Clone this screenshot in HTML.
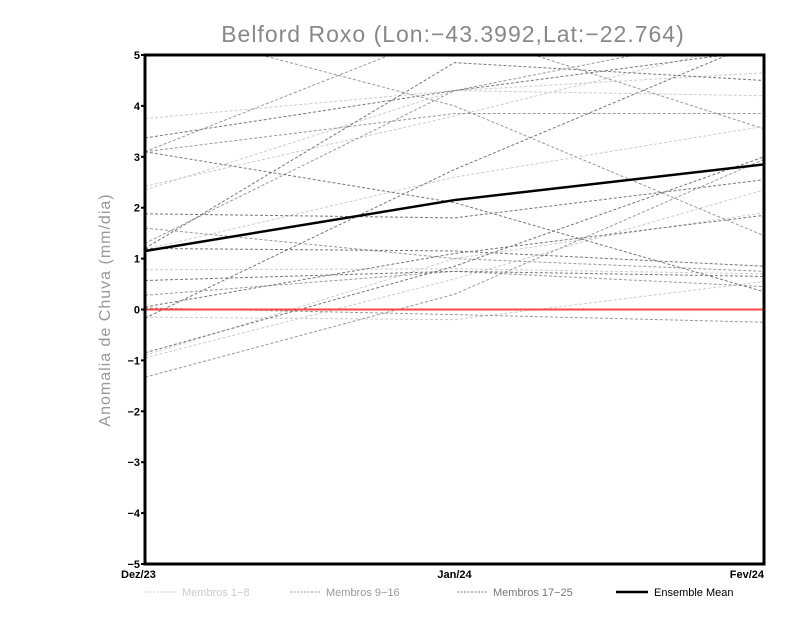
<!DOCTYPE html>
<html><head><meta charset="utf-8">
<style>
html,body{margin:0;padding:0;background:#fff;width:800px;height:618px;overflow:hidden}
text{font-family:"Liberation Sans",sans-serif}
</style></head>
<body>
<svg id="chart" width="800" height="618" xmlns="http://www.w3.org/2000/svg">
<defs><clipPath id="pc"><rect x="145" y="55" width="619" height="509"/></clipPath></defs>
<text x="453" y="42" text-anchor="middle" font-size="23" fill="#888" letter-spacing="1">Belford Roxo (Lon:−43.3992,Lat:−22.764)</text>
<text transform="translate(110,310) rotate(-90)" text-anchor="middle" font-size="16" fill="#999" letter-spacing="1">Anomalia de Chuva (mm/dia)</text>
<g id="series" clip-path="url(#pc)"></g>
<g id="axes"></g>
<g id="legend">
<line x1="146" y1="592" x2="176" y2="592" stroke="#ccc" stroke-dasharray="2,1.5"/>
<text x="182" y="596" font-size="11" fill="#ccc">Membros 1−8</text>
<line x1="290" y1="592" x2="320" y2="592" stroke="#999" stroke-dasharray="2,1.5"/>
<text x="326" y="596" font-size="11" fill="#999">Membros 9−16</text>
<line x1="457" y1="592" x2="487" y2="592" stroke="#777" stroke-dasharray="2,1.5"/>
<text x="493" y="596" font-size="11" fill="#777">Membros 17−25</text>
<line x1="616" y1="592" x2="648" y2="592" stroke="#000" stroke-width="2.5"/>
<text x="654" y="596" font-size="11" fill="#000">Ensemble Mean</text>
</g>
</svg>
<script>
const categories=["Dez/23","Jan/24","Fev/24"];
const yTicks=[-5,-4,-3,-2,-1,0,1,2,3,4,5];
const members1to8=[[3.75,4.3,4.2],[2.42,3.8,5.3],[1.18,2.6,3.6],[0.78,0.8,0.7],[-0.15,-0.2,0.55],[-0.95,0.6,2.35],[-0.9,1.0,1.9],[2.35,4.3,4.65]];
const members9to16=[[3.1,3.85,3.85],[1.6,1.0,0.75],[0.28,0.75,0.45],[-1.33,0.3,2.95],[1.3,4.3,5.5],[5.6,4.0,1.45],[3.1,5.5,3.55],[0.03,-0.1,-0.25]];
const members17to25=[[3.37,4.3,5.1],[1.88,1.8,2.55],[1.2,1.15,0.85],[0.57,0.75,0.65],[0.05,1.1,1.85],[-0.17,2.75,5.3],[3.1,2.1,0.35],[-0.85,0.85,3.0],[1.2,4.85,4.5]];
const ensembleMean=[1.15,2.15,2.85];

const X0=145,X1=764,Y0=564,Y1=55;
const xs=i=>X0+(X1-X0)*i/(categories.length-1);
const ys=v=>Y0-(v+5)/10*(Y0-Y1);
const NS="http://www.w3.org/2000/svg";
const series=document.getElementById('series'),axes=document.getElementById('axes');
function line(vals,color,w,dash,name,parent){
  const p=document.createElementNS(NS,'polyline');
  p.setAttribute('points',vals.map((v,i)=>xs(i)+','+ys(v)).join(' '));
  p.setAttribute('fill','none');p.setAttribute('stroke',color);p.setAttribute('stroke-width',w);
  if(dash)p.setAttribute('stroke-dasharray',dash);
  
  
  parent.appendChild(p);
}
members1to8.forEach((m,i)=>line(m,'#ccc',1,'3,2','member-'+(i+1)+'-line',series));
members9to16.forEach((m,i)=>line(m,'#999',1,'3,2','member-'+(i+9)+'-line',series));
members17to25.forEach((m,i)=>line(m,'#777',1,'3,2','member-'+(i+17)+'-line',series));
const zl=document.createElementNS(NS,'line');
zl.setAttribute('x1',X0);zl.setAttribute('x2',X1);zl.setAttribute('y1',ys(0));zl.setAttribute('y2',ys(0));
zl.setAttribute('stroke','#f44');zl.setAttribute('stroke-width','2');


series.appendChild(zl);
line(ensembleMean,'#000',2.5,null,'ensemble-mean-line',series);
const fr=document.createElementNS(NS,'rect');
fr.setAttribute('x',X0);fr.setAttribute('y',Y1);fr.setAttribute('width',X1-X0);fr.setAttribute('height',Y0-Y1);
fr.setAttribute('fill','none');fr.setAttribute('stroke','#000');fr.setAttribute('stroke-width','3');


axes.appendChild(fr);
yTicks.forEach(t=>{
  const tl=document.createElementNS(NS,'line');
  tl.setAttribute('x1',X0-4);tl.setAttribute('x2',X0);tl.setAttribute('y1',ys(t));tl.setAttribute('y2',ys(t));tl.setAttribute('stroke','#000');tl.setAttribute('stroke-width','2');
  
  
  axes.appendChild(tl);
  const tx=document.createElementNS(NS,'text');
  tx.setAttribute('x',X0-5);tx.setAttribute('y',ys(t)+4);tx.setAttribute('text-anchor','end');
  tx.setAttribute('font-size','11');tx.setAttribute('font-weight','bold');
  tx.textContent=t<0?'−'+(-t):String(t);
  
  
  axes.appendChild(tx);
});
categories.forEach((c,i)=>{
  const tx=document.createElementNS(NS,'text');
  tx.setAttribute('x',xs(i));tx.setAttribute('y',578);
  tx.setAttribute('text-anchor',i===0?'start':(i===categories.length-1?'end':'middle'));
  if(i===0)tx.setAttribute('x',xs(i)-24);
  tx.setAttribute('font-size','11');tx.setAttribute('font-weight','bold');
  tx.textContent=c;
  
  
  axes.appendChild(tx);
});
</script>
</body></html>
